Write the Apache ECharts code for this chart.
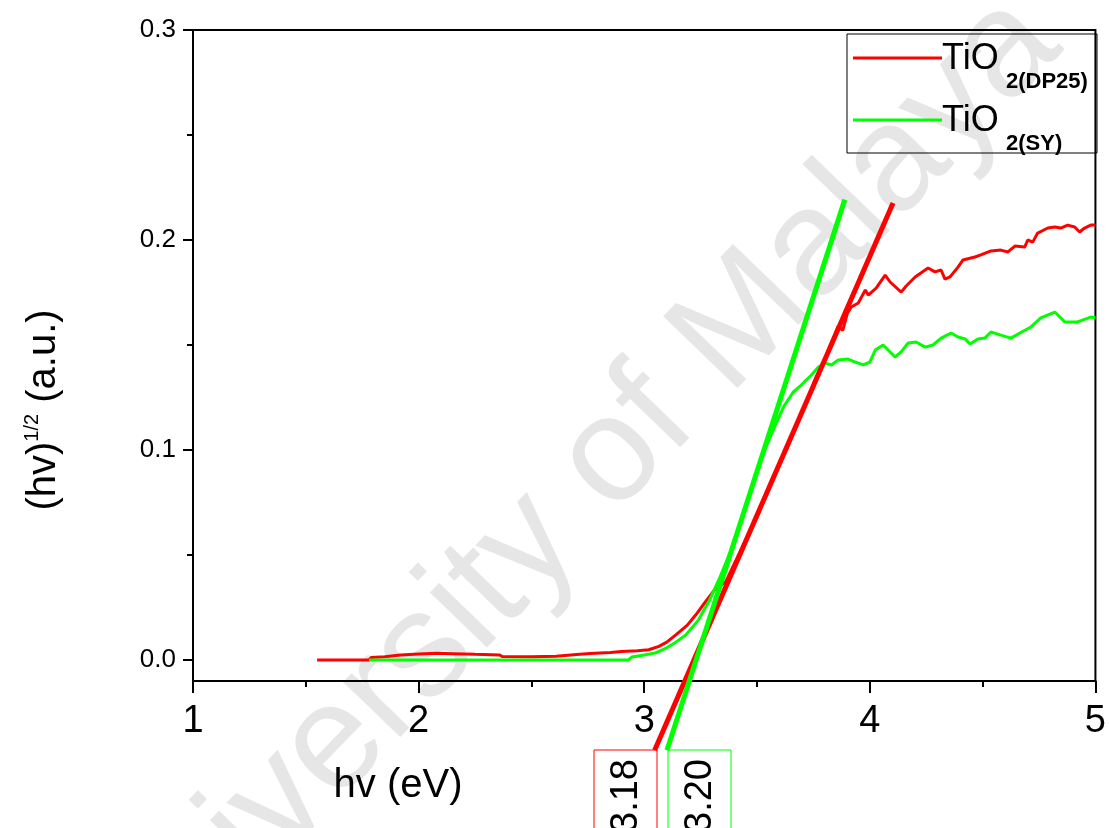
<!DOCTYPE html>
<html>
<head>
<meta charset="utf-8">
<script src="https://cdn.jsdelivr.net/npm/echarts@6/dist/echarts.min.js"></script>
<style>
  html, body { margin: 0; padding: 0; background: #ffffff; }
  #chart { width: 1109px; height: 828px; }
</style>
</head>
<body>
<div id="chart"></div>
<script>
const FONT = '"Liberation Sans", Arial, sans-serif';

// Axis ticks
const xTicks = [1, 2, 3, 4, 5];
const yTicks = [0, 0.1, 0.2, 0.3];
const yMinorTicks = [0.05, 0.15, 0.25];
const Y_MIN = -0.01;
const Y_MAX = 0.3;

const seriesNames = ['TiO2(DP25)', 'TiO2(SY)'];
const seriesColors = ['#ff0000', '#00ff00'];

// Tauc plot, TiO2 (DP25): [hv (eV), (hv)^1/2]
const dp25 = [
  [1.55, 0], [1.78, 0], [1.79, 0.0012], [1.85, 0.0016], [1.92, 0.0024], [2.0, 0.0029],
  [2.08, 0.0032], [2.15, 0.003], [2.25, 0.0027], [2.36, 0.0024], [2.37, 0.0017], [2.5, 0.0016],
  [2.61, 0.0018], [2.7, 0.0026], [2.76, 0.0031], [2.85, 0.0036], [2.9, 0.004], [2.97, 0.0044],
  [3.02, 0.0049], [3.065, 0.0065], [3.10, 0.0085], [3.14, 0.012], [3.19, 0.0165], [3.228, 0.0214],
  [3.27, 0.0275], [3.316, 0.034], [3.36, 0.037], [3.40, 0.046], [3.45, 0.057], [3.50, 0.069],
  [3.55, 0.081], [3.60, 0.093], [3.65, 0.105], [3.70, 0.118], [3.763, 0.1348], [3.80, 0.143],
  [3.83, 0.151], [3.86, 0.159], [3.88, 0.157], [3.90, 0.165], [3.918, 0.1681], [3.949, 0.170],
  [3.98, 0.1762], [3.993, 0.1738], [4.028, 0.1771], [4.068, 0.1833], [4.09, 0.180], [4.139, 0.1752],
  [4.161, 0.1781], [4.201, 0.1824], [4.258, 0.1867], [4.289, 0.1848], [4.316, 0.1857], [4.333, 0.1814],
  [4.355, 0.1824], [4.391, 0.1871], [4.413, 0.1905], [4.466, 0.1919], [4.492, 0.1929], [4.537, 0.1948],
  [4.581, 0.1952], [4.612, 0.1943], [4.643, 0.1971], [4.687, 0.1967], [4.70, 0.200], [4.722, 0.199],
  [4.744, 0.2033], [4.789, 0.2057], [4.82, 0.2062], [4.846, 0.2057], [4.877, 0.2071], [4.908, 0.2062],
  [4.93, 0.2038], [4.952, 0.2057], [4.979, 0.2071], [5.0, 0.2071]
];

// Tauc plot, TiO2 (SY)
const sy = [
  [1.78, 0], [2.0, 0], [2.4, 0], [2.93, 0], [2.945, 0.0014], [3.0, 0.0024], [3.05, 0.0034],
  [3.10, 0.0058], [3.14, 0.0085], [3.184, 0.0119], [3.24, 0.019], [3.29, 0.0286], [3.33, 0.038],
  [3.38, 0.051], [3.43, 0.067], [3.48, 0.083], [3.53, 0.099], [3.586, 0.113], [3.62, 0.121],
  [3.66, 0.1275], [3.697, 0.131], [3.741, 0.1357], [3.772, 0.1395], [3.803, 0.1414], [3.83, 0.1405],
  [3.86, 0.1429], [3.904, 0.1433], [3.935, 0.1419], [3.971, 0.1405], [4.0, 0.1419], [4.024, 0.1476],
  [4.059, 0.150], [4.081, 0.1476], [4.112, 0.1443], [4.139, 0.1467], [4.17, 0.151], [4.205, 0.1514],
  [4.245, 0.149], [4.28, 0.150], [4.316, 0.1533], [4.36, 0.1557], [4.391, 0.1538], [4.422, 0.1529],
  [4.444, 0.1505], [4.479, 0.1529], [4.51, 0.1533], [4.537, 0.1562], [4.577, 0.1548], [4.625, 0.1533],
  [4.665, 0.1557], [4.714, 0.1586], [4.758, 0.1629], [4.82, 0.1657], [4.864, 0.161], [4.921, 0.161],
  [4.979, 0.1633], [5.0, 0.163]
];

// Linear fits of the absorption edge: each one meets the bottom of the axis at its band gap
const bandGaps = [3.18, 3.20];
const fitSlopes = [0.2466, 0.3327];
const fitEndX = [4.103, 3.889];
const FIT_START_Y = -0.043;

function fitLine(i) {
  const eg = bandGaps[i], k = fitSlopes[i];
  const x0 = eg + (FIT_START_Y - Y_MIN) / k;
  const x1 = fitEndX[i];
  return [[x0, FIT_START_Y], [x1, Y_MIN + (x1 - eg) * k]];
}

const chart = echarts.init(document.getElementById('chart'), null, { renderer: 'canvas' });

function legendRow(i, lineY, main, sub) {
  return {
    type: 'group',
    children: [
      { type: 'line', shape: { x1: 853, y1: lineY, x2: 942, y2: lineY },
        style: { stroke: seriesColors[i], lineWidth: 3 } },
      { type: 'text', x: 942, y: lineY + 1,
        style: { text: main, fontSize: 36, fontFamily: FONT, fill: '#000', align: 'left', verticalAlign: 'middle' } },
      { type: 'text', x: 1006, y: lineY + 24,
        style: { text: sub, fontSize: 22, fontWeight: 'bold', fontFamily: FONT, fill: '#000', align: 'left', verticalAlign: 'middle' } }
    ]
  };
}

function gapBox(i, left) {
  return {
    type: 'group',
    children: [
      { type: 'rect', shape: { x: left, y: 750, width: 63, height: 120 },
        style: { fill: 'none', stroke: seriesColors[i], lineWidth: 1 } },
      { type: 'text', x: left + 33, y: 796, rotation: Math.PI / 2,
        style: { text: bandGaps[i].toFixed(2), fontSize: 38, fontFamily: FONT, fill: '#000',
                 align: 'center', verticalAlign: 'middle' } }
    ]
  };
}

const option = {
  animation: false,
  backgroundColor: '#ffffff',
  grid: {
    left: 193, right: 12, top: 30, bottom: 147,
    show: true, borderColor: '#000', borderWidth: 2, backgroundColor: 'transparent'
  },
  xAxis: {
    type: 'value', min: xTicks[0], max: xTicks[xTicks.length - 1], interval: 1,
    axisLine: { onZero: false, lineStyle: { color: '#000', width: 2 } },
    axisTick: { length: 12, lineStyle: { color: '#000', width: 2 } },
    minorTick: { show: true, splitNumber: 2, length: 6, lineStyle: { color: '#000', width: 2 } },
    axisLabel: { fontSize: 38, fontFamily: FONT, color: '#000', margin: 22 },
    splitLine: { show: false }
  },
  yAxis: [
    {
      type: 'value', min: Y_MIN, max: Y_MAX, position: 'left',
      axisLine: { show: true, onZero: false, lineStyle: { color: '#000', width: 2 } },
      axisTick: { show: true, length: 10, customValues: yTicks, lineStyle: { color: '#000', width: 2 } },
      axisLabel: { customValues: yTicks, fontSize: 26, fontFamily: FONT, color: '#000', margin: 17,
                   formatter: v => v.toFixed(1) },
      splitLine: { show: false }
    },
    {
      type: 'value', min: Y_MIN, max: Y_MAX, position: 'left',
      axisLine: { show: false, onZero: false },
      axisTick: { show: true, length: 6, customValues: yMinorTicks, lineStyle: { color: '#000', width: 2 } },
      axisLabel: { show: false },
      splitLine: { show: false }
    }
  ],
  series: [
    { name: seriesNames[0], type: 'line', data: dp25, showSymbol: false, symbol: 'none',
      lineStyle: { color: seriesColors[0], width: 3 }, itemStyle: { color: seriesColors[0] }, z: 3 },
    { name: seriesNames[1], type: 'line', data: sy, showSymbol: false, symbol: 'none',
      lineStyle: { color: seriesColors[1], width: 3 }, itemStyle: { color: seriesColors[1] }, z: 3 },
    { name: seriesNames[0] + ' fit', type: 'line', data: fitLine(0), showSymbol: false, symbol: 'none',
      clip: false, lineStyle: { color: seriesColors[0], width: 5 }, z: 4 },
    { name: seriesNames[1] + ' fit', type: 'line', data: fitLine(1), showSymbol: false, symbol: 'none',
      clip: false, lineStyle: { color: seriesColors[1], width: 5 }, z: 4 }
  ],
  graphic: [
    // repository watermark
    { type: 'text', x: 566, y: 506, rotation: 46 * Math.PI / 180, z: -10, silent: true,
      style: { text: 'University of Malaya', fontSize: 150, fontFamily: FONT, fill: '#e6e6e6',
               align: 'center', verticalAlign: 'middle' } },
    // y-axis title with superscript
    { type: 'text', x: 44, y: 410, rotation: Math.PI / 2,
      style: { text: '{a|(hv)}{b|1/2}{a| (a.u.)}', align: 'center', verticalAlign: 'middle',
               rich: {
                 a: { fontSize: 40, lineHeight: 44, fontFamily: FONT, fill: '#000' },
                 b: { fontSize: 20, lineHeight: 20, fontFamily: FONT, fill: '#000', verticalAlign: 'top' }
               } } },
    // x-axis title
    { type: 'text', x: 398, y: 786,
      style: { text: 'hv (eV)', fontSize: 40, fontFamily: FONT, fill: '#000', align: 'center', verticalAlign: 'middle' } },
    // legend
    { type: 'rect', shape: { x: 847, y: 34, width: 250, height: 119 },
      style: { fill: 'none', stroke: '#000', lineWidth: 1 } },
    legendRow(0, 58, 'TiO', '2(DP25)'),
    legendRow(1, 120, 'TiO', '2(SY)'),
    // band-gap labels
    gapBox(0, 594),
    gapBox(1, 668)
  ]
};

chart.setOption(option);
</script>
</body>
</html>
